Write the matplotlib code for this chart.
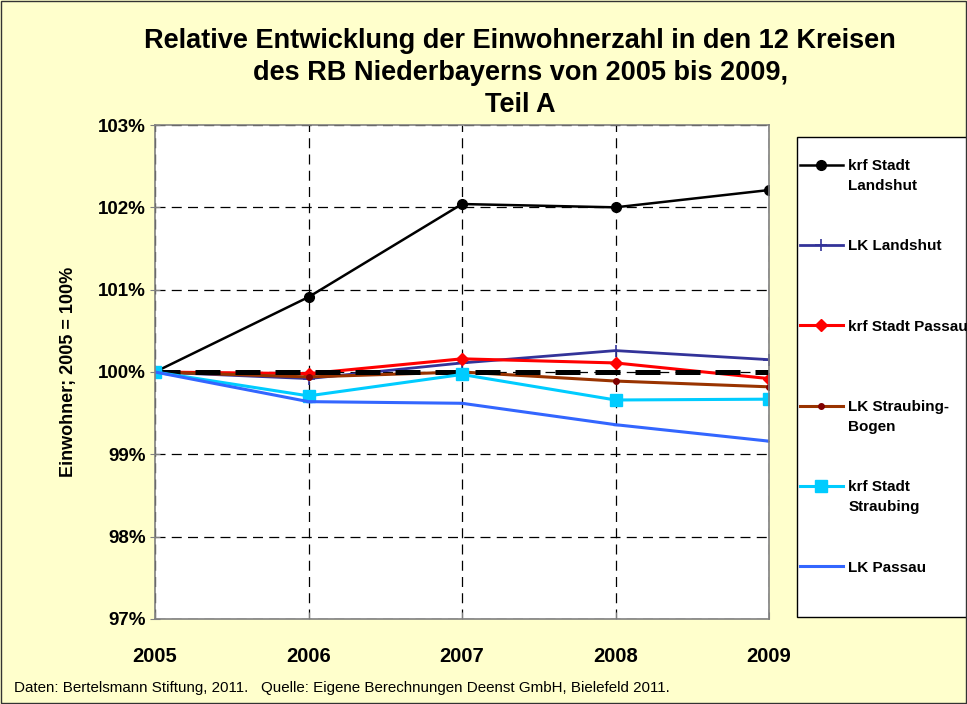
import matplotlib.pyplot as plt
from matplotlib.patches import Rectangle
import numpy as np

plt.rcParams['font.family'] = ['Liberation Sans', 'DejaVu Sans']

years = [2005, 2006, 2007, 2008, 2009]

# Einwohner relativ zu 2005 (= 100 %)
stadt_landshut = [100.0, 100.91, 102.04, 102.0, 102.21]
lk_landshut = [100.0, 99.92, 100.11, 100.26, 100.15]
stadt_passau = [100.0, 99.98, 100.16, 100.11, 99.92]
lk_straubing_bogen = [100.0, 99.94, 100.0, 99.89, 99.82]
stadt_straubing = [100.0, 99.71, 99.97, 99.66, 99.67]
lk_passau = [100.0, 99.64, 99.62, 99.36, 99.16]
basis = [100.0, 100.0, 100.0, 100.0, 100.0]

# Legendentexte: erste Zeile / zweite Zeile
label_first = ['krf Stadt', 'LK Landshut', 'krf Stadt Passau', 'LK Straubing-', 'krf Stadt', 'LK Passau']
label_second = ['Landshut', '', '', 'Bogen', 'Straubing', '']

ytick_vals = [97, 98, 99, 100, 101, 102, 103]
ytick_labels = ['97%', '98%', '99%', '100%', '101%', '102%', '103%']

fig = plt.figure(figsize=(9.67, 7.04), dpi=100, facecolor='#FFFFCC')
ax = fig.add_axes([155 / 967, 1 - 619 / 704, 614 / 967, 494 / 704])
ax.set_facecolor('white')

ax.plot(years, stadt_landshut, color='black', lw=1.8, marker='o', ms=7, label=label_first[0])
ax.plot(years, lk_landshut, color='#333399', lw=2, marker='+', ms=9, mew=1.2, label=label_first[1])
ax.plot(years, stadt_passau, color='#FF0000', lw=2.2, marker='D', ms=6, label=label_first[2])
ax.plot(years, lk_straubing_bogen, color='#993300', lw=2.2, marker='o', ms=4,
        mfc='#800000', mec='#800000', label=label_first[3])
ax.plot(years, basis, color='black', lw=3.6, ls=(0, (5, 3)))
ax.plot(years, stadt_straubing, color='#00CCFF', lw=2.2, marker='s', ms=8, label=label_first[4])
ax.plot(years, lk_passau, color='#3366FF', lw=2.2, marker='_', ms=5, label=label_first[5])

ax.set_xlim(2005, 2009)
ax.set_ylim(97, 103)
ax.set_xticks(years)
ax.set_xticklabels([str(y) for y in years], fontsize=14.5, fontweight='bold')
ax.set_yticks(ytick_vals)
ax.set_yticklabels(ytick_labels, fontsize=13.5, fontweight='bold')
ax.tick_params(axis='x', direction='in', length=5, pad=20, color='#808080')
ax.tick_params(axis='y', direction='inout', length=7, pad=3, color='#808080')
ax.grid(True, color='black', ls=(0, (8, 5)), lw=0.9)
for s in ax.spines.values():
    s.set_color('#808080')
    s.set_linewidth(1.2)

ax.set_ylabel('Einwohner; 2005 = 100%', fontsize=13, fontweight='bold', labelpad=15)

fig.text(0.538, 1 - 73 / 704,
         'Relative Entwicklung der Einwohnerzahl in den 12 Kreisen\n'
         'des RB Niederbayerns von 2005 bis 2009,\nTeil A',
         ha='center', va='center', fontsize=19.5, fontweight='bold', linespacing=1.3)

fig.text(14 / 967, 1 - 688 / 704,
         'Daten: Bertelsmann Stiftung, 2011.   Quelle: Eigene Berechnungen Deenst GmbH, Bielefeld 2011.',
         ha='left', va='center', fontsize=10.9)

# Legendenrahmen
fig.patches.append(Rectangle((797 / 967, 1 - 617 / 704), 0.3, 480 / 704, transform=fig.transFigure,
                             facecolor='white', edgecolor='black', lw=1.0, zorder=0))

leg = fig.legend(loc='upper left', bbox_to_anchor=(800 / 967, 1 - 159 / 704),
                 frameon=False, prop={'weight': 'bold', 'size': 11},
                 handlelength=2.8, handletextpad=0.35, labelspacing=4.34,
                 borderpad=0, borderaxespad=0)

# zweite Zeile der Legendentexte unter die erste setzen
fig.canvas.draw()
W, H = fig.bbox.width, fig.bbox.height
for t, second in zip(leg.get_texts(), label_second):
    if second:
        bb = t.get_window_extent()
        fig.text(bb.x0 / W, (bb.y0 + bb.y1) / 2 / H - 20 / 704, second,
                 ha='left', va='center', fontsize=11, fontweight='bold')

fig.patches.append(Rectangle((0.001, 0.001), 0.998, 0.998, transform=fig.transFigure,
                             fill=False, edgecolor='#333333', lw=1))

fig.savefig('out.png', dpi=100, facecolor=fig.get_facecolor())
